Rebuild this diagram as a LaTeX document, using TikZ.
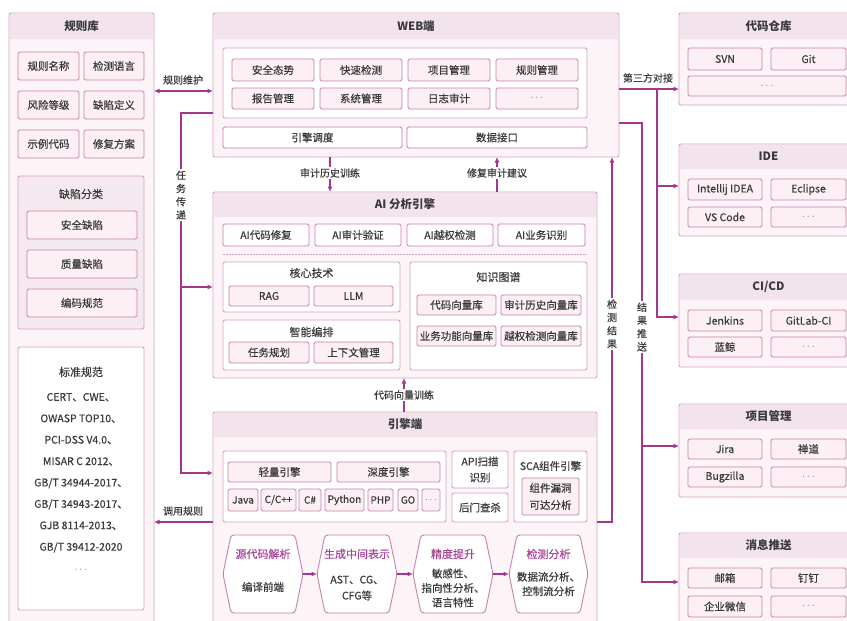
\documentclass[tikz,border=0pt]{standalone}
\usepackage{fontspec}
\setmainfont{Noto Sans CJK SC}
\newfontfamily\medf{Noto Sans CJK SC}[FakeBold=0.45]
\usetikzlibrary{arrows.meta,calc}
\definecolor{pborder}{HTML}{D3A2C5}
\definecolor{pfill}{HTML}{FDF4F8}
\definecolor{hfill}{HTML}{F2E3EC}
\definecolor{bborder}{HTML}{C77FB0}
\definecolor{bfill}{HTML}{FDF0F5}
\definecolor{acol}{HTML}{A4378C}
\definecolor{tcol}{HTML}{3A3A3A}
\definecolor{htcol}{HTML}{A8449A}
\newcommand\bx[7]{\node[#1,minimum width={#5pt-#3pt},minimum height={#6pt-#4pt}] (#2) at ({(#3+#5)/2},{(#4+#6)/2}) {#7};}
\newcommand\panel[7]{%
  \bx{panel}{#1}{#2}{#3}{#4}{#5}{}
  \fill[hfill] (#2+0.6,#6) [rounded corners=1.5pt] -- (#2+0.6,#3+0.6) -- (#4-0.6,#3+0.6) [sharp corners] -- (#4-0.6,#6) -- cycle;
  \node[ttl] (#1-t) at ({(#2+#4)/2},{(#3+#6)/2}) {#7};}
\newcommand\hexa[5]{%
  \node[minimum width={#4pt-#2pt},minimum height={#5pt-#3pt},inner sep=0pt,outer sep=0pt] (#1) at ({(#2+#4)/2},{(#3+#5)/2}) {};
  \draw[hexst] (#1.west) -- ($(#1.north west)+(8,0)$) -- ($(#1.north east)+(-8,0)$) -- (#1.east) -- ($(#1.south east)+(-8,0)$) -- ($(#1.south west)+(8,0)$) -- cycle;}
\newcommand\dd{\textcolor{tcol!70}{$\cdots$}}
\tikzset{
 panel/.style={draw=pborder,fill=pfill,line width=0.9pt,rounded corners=2pt,inner sep=0pt,outer sep=0pt},
 grp/.style={draw=pborder,fill=white,line width=0.9pt,rounded corners=2pt,inner sep=0pt,outer sep=0pt,text=tcol,align=center,font=\medf\fontsize{10.5}{16}\selectfont},
 btn/.style={draw=bborder,fill=bfill,line width=0.9pt,rounded corners=1.5pt,inner sep=0pt,outer sep=0pt,text=tcol,align=center,font=\medf\fontsize{10.5}{17}\selectfont},
 wbtn/.style={btn,fill=white},
 lang/.style={btn,font=\medf\fontsize{10}{12}\selectfont},
 ttl/.style={text=tcol,font=\bfseries\fontsize{11.5}{13}\selectfont,inner sep=0pt},
 sub/.style={text=tcol,font=\medf\fontsize{11}{13}\selectfont,inner sep=0pt},
 lbl/.style={text=tcol,font=\medf\fontsize{10}{12}\selectfont,fill=white,inner sep=1.5pt},
 vlbl/.style={text=tcol,font=\medf\fontsize{10}{13.2}\selectfont,fill=white,inner sep=1.5pt,align=center},
 conn/.style={draw=acol,line width=1.2pt,-{Latex[length=5.5pt,width=5pt]}},
 conn2/.style={draw=acol,line width=1.2pt,{Latex[length=5.5pt,width=5pt]}-{Latex[length=5.5pt,width=5pt]}},
 hexst/.style={draw=bborder,fill=white,line width=0.9pt,rounded corners=3pt},
 htl/.style={text=htcol,font=\medf\fontsize{11}{13}\selectfont,inner sep=0pt},
 hbd/.style={text=tcol,font=\medf\fontsize{10.5}{14.5}\selectfont,inner sep=0pt,align=center},
}
\begin{document}
\begin{tikzpicture}[x=1pt,y=-1pt]
\useasboundingbox (0,0) rectangle (847,621);
\fill[white] (0,0) rectangle (847,621);

% ---------- rule library ----------
\panel{rules}{9}{13}{154}{640}{39}{规则库}
\bx{btn}{r1}{18}{52}{79}{80}{规则名称}
\bx{btn}{r2}{84}{52}{144}{80}{检测语言}
\bx{btn}{r3}{18}{91}{79}{119}{风险等级}
\bx{btn}{r4}{84}{91}{144}{119}{缺陷定义}
\bx{btn}{r5}{18}{130}{79}{158}{示例代码}
\bx{btn}{r6}{84}{130}{144}{158}{修复方案}
\bx{grp,fill=hfill!80}{defect}{18}{176}{144}{329}{}
\node[sub] (defect-t) at (81,194) {缺陷分类};
\bx{btn}{d1}{27}{211}{137}{239}{安全缺陷}
\bx{btn}{d2}{27}{250}{137}{278}{质量缺陷}
\bx{btn}{d3}{27}{289}{137}{317}{编码规范}
\bx{grp}{std}{18}{347}{144}{610}{}
\node[sub] (std-t) at (81,372) {标准规范};
\node[text=tcol,align=center,inner sep=0pt,font=\medf\fontsize{10.5}{21.4}\selectfont] (stdlist) at (81,482.5)
 {CERT、CWE、\\OWASP TOP10、\\PCI-DSS V4.0、\\MISAR C 2012、\\GB/T 34944-2017、\\GB/T 34943-2017、\\GJB 8114-2013、\\GB/T 39412-2020\\\dd};

% ---------- WEB ----------
\panel{web}{213}{13}{619}{157}{39}{WEB端}
\bx{grp}{webg}{223}{48}{587}{118}{}
\bx{btn}{w1}{232}{59}{314}{81}{安全态势}
\bx{btn}{w2}{320}{59}{402}{81}{快速检测}
\bx{btn}{w3}{408}{59}{490}{81}{项目管理}
\bx{btn}{w4}{496}{59}{578}{81}{规则管理}
\bx{btn}{w5}{232}{88}{314}{109}{报告管理}
\bx{btn}{w6}{320}{88}{402}{109}{系统管理}
\bx{btn}{w7}{408}{88}{490}{109}{日志审计}
\bx{btn}{w8}{496}{88}{578}{109}{\dd}
\bx{wbtn}{w9}{223}{127}{402}{148}{引擎调度}
\bx{wbtn}{w10}{407}{127}{587}{148}{数据接口}

% ---------- AI ----------
\panel{ai}{213}{192}{597}{378}{217}{AI 分析引擎}
\bx{wbtn}{a1}{223}{224}{309}{246}{AI代码修复}
\bx{wbtn}{a2}{315}{224}{401}{246}{AI审计验证}
\bx{wbtn}{a3}{407}{224}{493}{246}{AI越权检测}
\bx{wbtn}{a4}{498}{224}{585}{246}{AI业务识别}
\draw[pborder,line width=0.6pt,dash pattern=on 1.5pt off 1.5pt] (223,254) -- (587,254);
\bx{grp}{core}{223}{262}{400}{312}{}
\node[sub] (core-t) at (311.5,273) {核心技术};
\bx{btn}{c1}{229}{286}{309}{306}{RAG}
\bx{btn}{c2}{314}{286}{393}{306}{LLM}
\bx{grp}{orch}{223}{320}{400}{370}{}
\node[sub] (orch-t) at (311.5,332) {智能编排};
\bx{btn}{o1}{229}{342}{309}{363}{任务规划}
\bx{btn}{o2}{314}{342}{393}{363}{上下文管理}
\bx{grp}{kg}{410}{262}{587}{370}{}
\node[sub] (kg-t) at (498.5,277) {知识图谱};
\bx{btn}{k1}{417}{295}{496}{315}{代码向量库}
\bx{btn}{k2}{501}{295}{581}{315}{审计历史向量库}
\bx{btn}{k3}{417}{326}{496}{346}{业务功能向量库}
\bx{btn}{k4}{501}{326}{581}{346}{越权检测向量库}

% ---------- engine ----------
\panel{eng}{213}{412}{597}{640}{437}{引擎端}
\bx{grp}{langs}{223}{451}{446}{522}{}
\bx{btn}{e1}{228}{462}{331}{482}{轻量引擎}
\bx{btn}{e2}{337}{462}{440}{482}{深度引擎}
\bx{lang}{l1}{228}{489}{258}{511}{Java}
\bx{lang}{l2}{261}{489}{296}{511}{C/C++}
\bx{lang}{l3}{299}{489}{321}{511}{C\#}
\bx{lang}{l4}{325}{489}{364}{511}{Python}
\bx{lang}{l5}{368}{489}{393}{511}{PHP}
\bx{lang}{l6}{398}{489}{418}{511}{GO}
\bx{lang}{l7}{422}{489}{440}{511}{\dd}
\bx{grp}{api}{452}{451}{508}{488}{API扫描\\识别}
\bx{grp}{bd}{452}{493}{508}{522}{后门查杀}
\bx{grp}{sca}{514}{451}{587}{522}{}
\node[sub,font=\medf\fontsize{10.5}{13}\selectfont] (sca-t) at (550.5,466) {SCA组件引擎};
\bx{btn}{sca1}{522}{478}{579}{515}{组件漏洞\\可达分析}

\hexa{h1}{223}{535}{303}{613}
\hexa{h2}{317}{535}{397}{613}
\hexa{h3}{413}{535}{493}{613}
\hexa{h4}{509}{535}{588}{613}
\node[htl] (h1t) at (263,554) {源代码解析};
\node[hbd] (h1b) at (263,587) {编译前端};
\node[htl] (h2t) at (357,554) {生成中间表示};
\node[hbd,font=\medf\fontsize{10.5}{16}\selectfont] (h2b) at (357,588) {AST、CG、\\CFG等};
\node[htl] (h3t) at (453,554) {精度提升};
\node[hbd] (h3b) at (453,588) {敏感性、\\指向性分析、\\语言特性};
\node[htl] (h4t) at (548.5,554) {检测分析};
\node[hbd] (h4b) at (548.5,584) {数据流分析、\\控制流分析};
\draw[conn] (h1.east) -- (h2.west);
\draw[conn] (h2.east) -- (h3.west);
\draw[conn] (h3.east) -- (h4.west);

% ---------- right side ----------
\panel{repo}{679}{13}{858}{105}{39}{代码仓库}
\bx{btn}{p1}{688}{48}{762}{70}{SVN}
\bx{btn}{p2}{771}{48}{846}{70}{Git}
\bx{btn}{p3}{688}{76}{846}{96}{\dd}
\panel{ide}{679}{144}{858}{236}{169}{IDE}
\bx{btn}{i1}{688}{179}{762}{200}{Intellij IDEA}
\bx{btn}{i2}{771}{179}{846}{200}{Eclipse}
\bx{btn}{i3}{688}{207}{762}{227}{VS Code}
\bx{btn}{i4}{771}{207}{846}{227}{\dd}
\panel{cicd}{679}{274}{858}{367}{300}{CI/CD}
\bx{btn}{ci1}{688}{310}{762}{331}{Jenkins}
\bx{btn}{ci2}{771}{310}{846}{331}{GitLab-CI}
\bx{btn}{ci3}{688}{337}{762}{357}{蓝鲸}
\bx{btn}{ci4}{771}{337}{846}{357}{\dd}
\panel{pm}{679}{404}{858}{497}{429}{项目管理}
\bx{btn}{pm1}{688}{439}{762}{459}{Jira}
\bx{btn}{pm2}{771}{439}{846}{459}{禅道}
\bx{btn}{pm3}{688}{467}{762}{487}{Bugzilla}
\bx{btn}{pm4}{771}{467}{846}{487}{\dd}
\panel{msg}{679}{533}{858}{640}{558}{消息推送}
\bx{btn}{m1}{688}{568}{762}{588}{邮箱}
\bx{btn}{m2}{771}{568}{846}{588}{钉钉}
\bx{btn}{m3}{688}{596}{762}{617}{企业微信}
\bx{btn}{m4}{771}{596}{846}{617}{\dd}

% ---------- connectors ----------
\draw[conn2] (rules.east |- 0,91) -- (web.west |- 0,91);
\node[lbl] (lb1) at (183,80) {规则维护};

\coordinate (tj) at (181,113);
\draw[conn] (web.west |- tj) -- (tj) -- (tj |- 0,473) -- (eng.west |- 0,473);
\draw[conn] (tj |- 0,287) -- (ai.west |- 0,287);
\node[vlbl] (lb2) at (181,195) {任\\务\\传\\递};

\draw[conn] (eng.west |- 0,522) -- (rules.east |- 0,522);
\node[lbl] (lb3) at (183,511) {调用规则};

\draw[conn] (web.south -| 330,0) -- (ai.north -| 330,0);
\node[lbl] (lb4) at (330,173) {审计历史训练};
\draw[conn] (ai.north -| 497,0) -- (web.south -| 497,0);
\node[lbl] (lb5) at (497,173) {修复审计建议};
\draw[conn] (eng.north -| 404,0) -- (ai.south -| 404,0);
\node[lbl] (lb6) at (404,395) {代码向量训练};

\coordinate (jc) at (612,522);
\draw[conn] (eng.east |- jc) -- (jc) -- (jc |- web.south);
\node[vlbl] (lb7) at (612,324) {检\\测\\结\\果};

\coordinate (tp) at (657,89);
\draw[conn] (web.east |- tp) -- (repo.west |- tp);
\draw[conn] (tp) -- (tp |- 0,317) -- (cicd.west |- 0,317);
\draw[conn] (tp |- 0,186) -- (ide.west |- 0,186);
\node[lbl,fill=none] (lb8) at (648,78) {第三方对接};

\coordinate (rp) at (642,123);
\draw[conn] (web.east |- rp) -- (rp) -- (rp |- 0,582) -- (msg.west |- 0,582);
\draw[conn] (rp |- 0,446) -- (pm.west |- 0,446);
\node[vlbl] (lb9) at (642,327) {结\\果\\推\\送};
\end{tikzpicture}
\end{document}
